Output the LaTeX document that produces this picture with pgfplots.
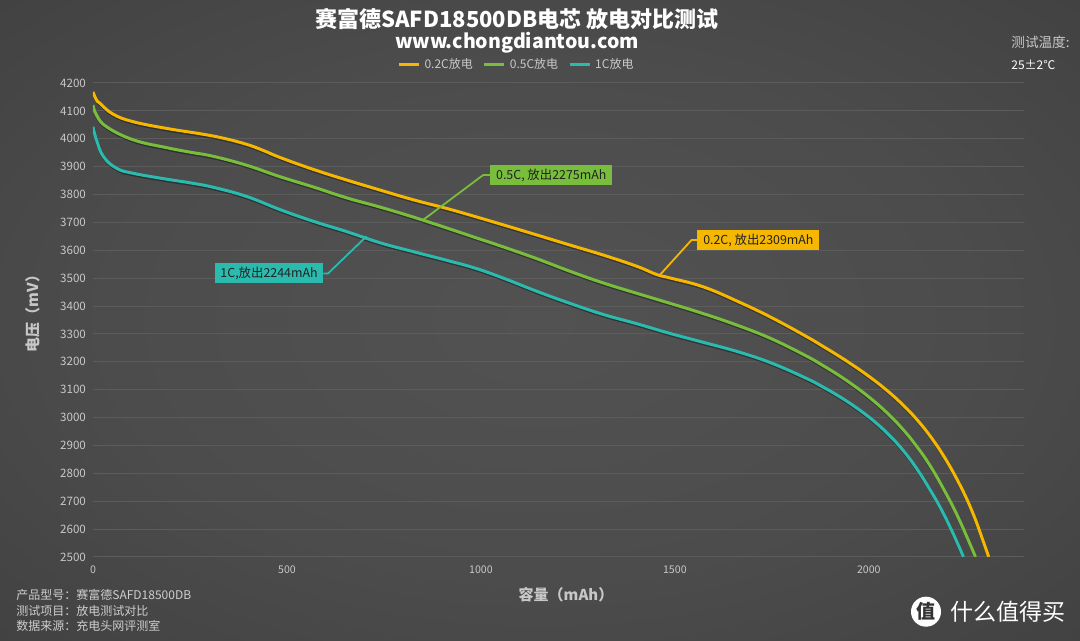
\documentclass[border=0pt]{standalone}
\usepackage{pgfplots}
\pgfplotsset{compat=1.18}
\usepackage{pgfplotstable}
\usepackage{fontspec}
\setmainfont{Noto Sans CJK SC}

\definecolor{cY}{HTML}{F5B700}
\definecolor{cG}{HTML}{78BE3C}
\definecolor{cC}{HTML}{2BBBAE}
\definecolor{bgin}{HTML}{525252}
\definecolor{bgout}{HTML}{2A2A2A}
\definecolor{tickc}{HTML}{C8C8C8}
\definecolor{gridc}{HTML}{5C5C5C}
\definecolor{lbltxt}{HTML}{222222}
\pgfdeclareradialshading{bgshade}{\pgfpoint{0bp}{0bp}}{color(0bp)=(bgin); color(20bp)=(bgin!85!bgout); color(72bp)=(bgout)}

\pgfplotstableread{
x y
0 4168
9 4139
18 4127
52 4088
104 4061
190 4037
276 4018
336 4002
396 3980
439 3958
482 3933
568 3890
654 3852
740 3816
826 3781
912 3750
985 3721
1058 3691
1144 3655
1229 3619
1315 3583
1401 3543
1453 3513
1487 3501
1573 3469
1663 3416
1750 3358
1840 3290
1880 3257
1920 3223
1960 3187
2000 3148
2040 3105
2080 3056
2120 2999
2160 2930
2200 2846
2240 2744
2270 2651
2295 2556
2309 2500
}\tY

\pgfplotstableread{
x y
0 4121
9 4085
35 4043
104 3996
190 3968
250 3952
310 3937
396 3905
482 3864
568 3827
654 3788
740 3755
826 3719
912 3680
985 3646
1058 3612
1144 3570
1229 3525
1315 3483
1401 3446
1487 3410
1573 3373
1663 3330
1750 3282
1840 3220
1880 3188
1920 3154
1960 3116
2000 3074
2040 3026
2080 2970
2120 2903
2160 2823
2200 2725
2230 2643
2260 2549
2275 2500
}\tG

\pgfplotstableread{
x y
0 4043
9 3996
27 3936
61 3894
104 3876
190 3855
250 3842
310 3826
396 3793
482 3746
568 3704
654 3667
740 3627
826 3595
912 3564
985 3536
1058 3500
1144 3453
1229 3410
1315 3370
1401 3337
1487 3302
1573 3270
1663 3236
1750 3195
1840 3140
1880 3111
1920 3079
1960 3043
2000 3002
2040 2954
2080 2896
2120 2824
2160 2736
2190 2662
2220 2576
2244 2500
}\tC

\begin{document}
\begin{tikzpicture}
\path[use as bounding box] (0,0) rectangle (540pt,320.5pt);
\shade[shading=bgshade] (0,0) rectangle (540pt,320.5pt);
\begin{axis}[
  at={(46.5pt,42pt)}, anchor=south west,
  scale only axis, width=465.5pt, height=237pt,
  xmin=0, xmax=2400, ymin=2500, ymax=4200,
  axis line style={draw=none},
  major tick length=0pt,
  ymajorgrids, grid style={gridc, line width=0.5pt},
  xtick={0,500,1000,1500,2000},
  ytick={2500,2600,...,4200},
  tick label style={text=tickc},
  xticklabel style={font=\fontsize{5.3}{6}\selectfont, yshift=-1pt},
  yticklabel style={font=\fontsize{5.8}{7}\selectfont},
  /pgf/number format/assume math mode=true,
  /pgf/number format/1000 sep={},
  legend style={at={(0.456,1)}, anchor=center, yshift=9pt, draw=none, fill=none,
    text=tickc, font=\fontsize{6}{7}\selectfont,
    /tikz/every even column/.append style={column sep=3pt}},
  legend columns=3,
  legend image code/.code={\draw[#1, line width=1.5pt] (0pt,0pt) -- (10pt,0pt);},
]
\addplot[black, opacity=0.35, line width=1.5pt, smooth, tension=0.7, forget plot, transform canvas={yshift=-0.8pt, xshift=0.3pt}] table[x=x,y=y] {\tY};
\addplot[black, opacity=0.35, line width=1.5pt, smooth, tension=0.7, forget plot, transform canvas={yshift=-0.8pt, xshift=0.3pt}] table[x=x,y=y] {\tG};
\addplot[black, opacity=0.35, line width=1.5pt, smooth, tension=0.7, forget plot, transform canvas={yshift=-0.8pt, xshift=0.3pt}] table[x=x,y=y] {\tC};
\addplot[cY, line width=1.5pt, smooth, tension=0.7] table[x=x,y=y] {\tY};
\addlegendentry{0.2C放电}
\addplot[cG, line width=1.5pt, smooth, tension=0.7] table[x=x,y=y] {\tG};
\addlegendentry{0.5C放电}
\addplot[cC, line width=1.5pt, smooth, tension=0.7] table[x=x,y=y] {\tC};
\addlegendentry{1C放电}

% annotations
\draw[cG, line width=0.9pt] (axis cs:851,3709) -- (axis cs:1006,3870) -- (axis cs:1023,3870);
\node[fill=cG, text=lbltxt, anchor=west, minimum height=10pt, minimum width=61pt, inner sep=1pt, font=\fontsize{6.2}{7}\selectfont] at (axis cs:1023,3870) {0.5C, 放出2275mAh};
\draw[cC, line width=0.9pt] (axis cs:705,3650) -- (axis cs:606,3517) -- (axis cs:594,3517);
\node[fill=cC, text=lbltxt, anchor=east, minimum height=10pt, minimum width=54pt, inner sep=1pt, font=\fontsize{6.2}{7}\selectfont] at (axis cs:594,3517) {1C,放出2244mAh};
\draw[cY, line width=0.9pt] (axis cs:1461,3511) -- (axis cs:1543,3637) -- (axis cs:1557,3637);
\node[fill=cY, text=lbltxt, anchor=west, minimum height=10pt, minimum width=61pt, inner sep=1pt, font=\fontsize{6.2}{7}\selectfont] at (axis cs:1557,3637) {0.2C, 放出2309mAh};
\end{axis}

\begin{scope}[shift={(0pt,320.5pt)}, x=0.5pt, y=-0.5pt]
\node[white, font=\bfseries\fontsize{11}{13}\selectfont] at (517,19) {赛富德SAFD18500DB电芯 放电对比测试};
\node[white, font=\bfseries\fontsize{9.8}{12}\selectfont] at (517,43) {www.chongdiantou.com};
\node[tickc, anchor=west, inner sep=0pt, font=\fontsize{6.8}{8}\selectfont] at (1011,42.5) {测试温度:};
\node[white, anchor=west, inner sep=0pt, font=\fontsize{6}{7}\selectfont] at (1011,65) {25±2℃};
\node[tickc, font=\bfseries\fontsize{7.5}{9}\selectfont] at (566,595) {容量（mAh）};
\node[tickc, rotate=90, font=\bfseries\fontsize{7.5}{9}\selectfont] at (33,310) {电压（mV）};
\node[tickc!90!white, anchor=west, inner sep=0pt, font=\fontsize{6}{7}\selectfont] at (16,595) {产品型号：赛富德SAFD18500DB};
\node[tickc!90!white, anchor=west, inner sep=0pt, font=\fontsize{6}{7}\selectfont] at (16,610.5) {测试项目：放电测试对比};
\node[tickc!90!white, anchor=west, inner sep=0pt, font=\fontsize{6}{7}\selectfont] at (16,626) {数据来源：充电头网评测室};
\fill[white] (926,611.7) circle (7.5pt);
\node[text=black!80, font=\bfseries\fontsize{9.5}{10}\selectfont] at (926,611.7) {值};
\node[white, anchor=west, inner sep=0pt, font=\fontsize{11.5}{13}\selectfont] at (950,611.7) {什么值得买};
\end{scope}
\end{tikzpicture}
\end{document}
